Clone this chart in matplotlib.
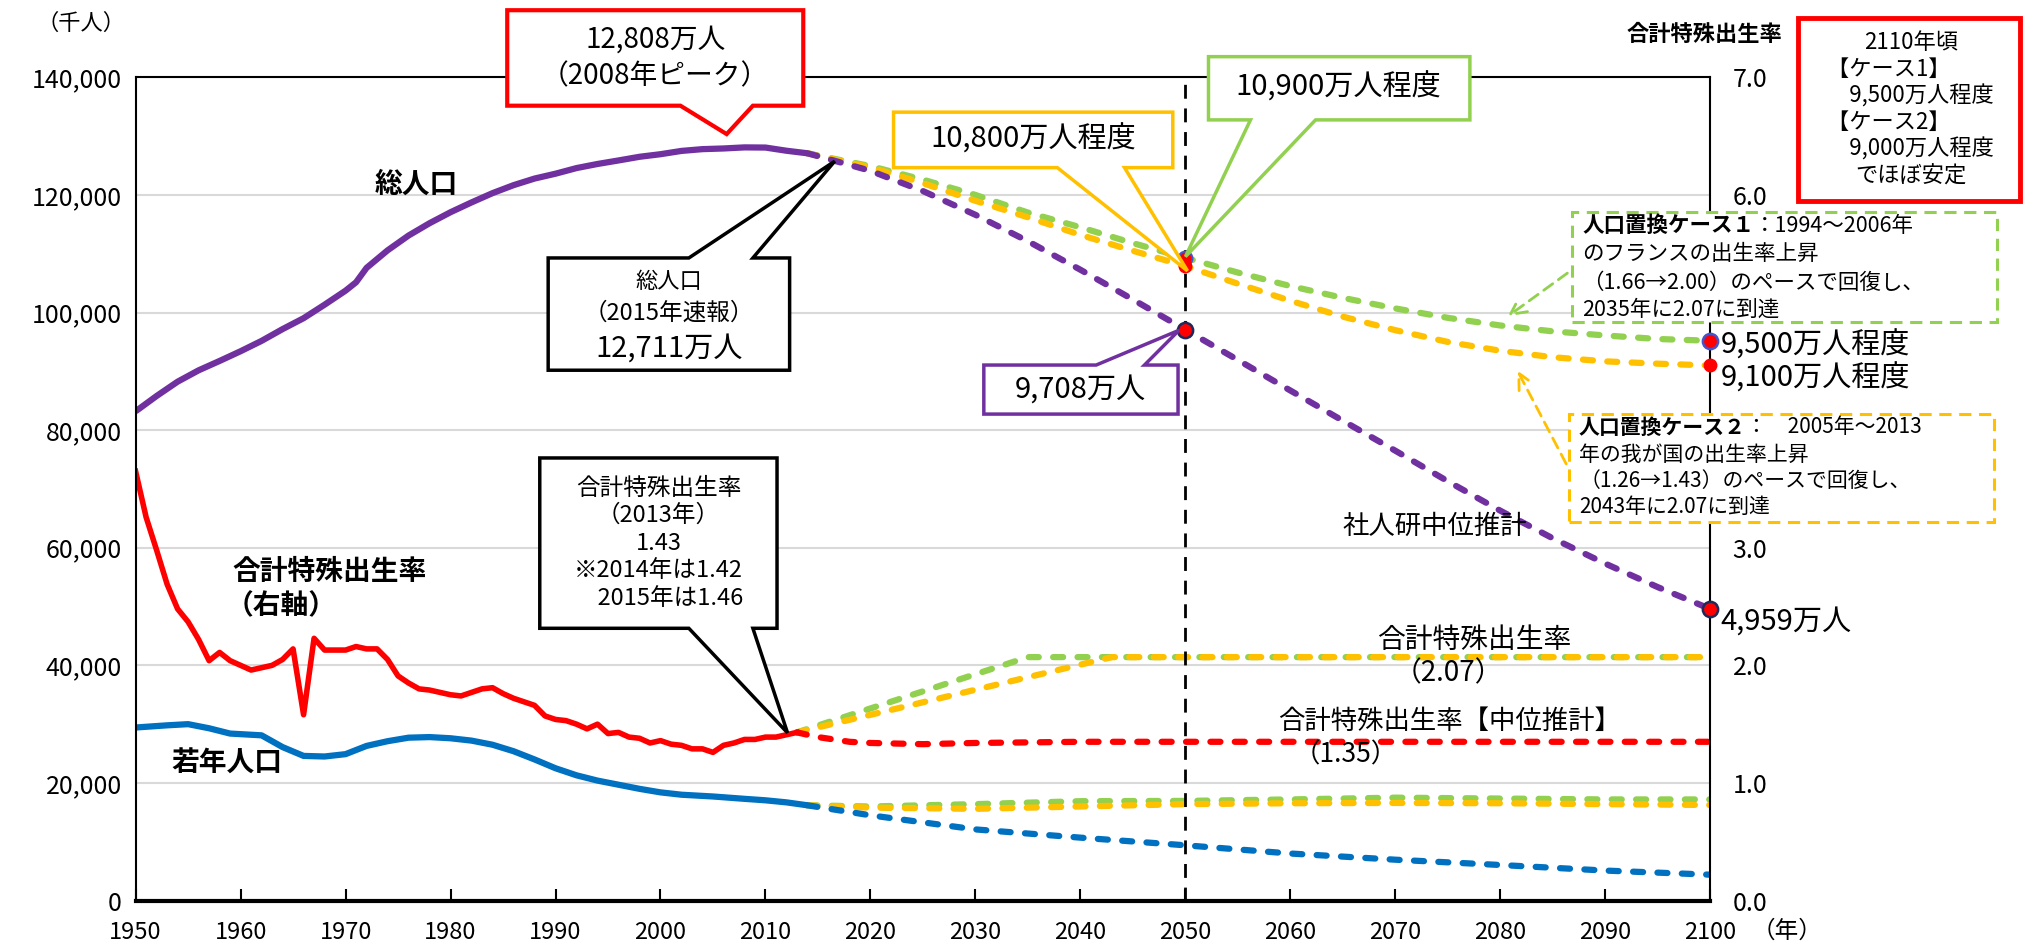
import matplotlib.pyplot as plt
from matplotlib.patches import Polygon, Rectangle, FancyArrowPatch
from matplotlib.ticker import FuncFormatter

plt.rcParams['font.family'] = ['Noto Sans CJK JP', 'DejaVu Sans']

# ---- data ----
# 総人口 実績 (千人)
pop_years = [1950, 1952, 1954, 1956, 1958, 1960, 1962, 1964, 1966, 1968, 1970, 1971,
             1972, 1974, 1976, 1978, 1980, 1982, 1984, 1986, 1988, 1990, 1992, 1994,
             1996, 1998, 2000, 2002, 2004, 2006, 2008, 2010, 2012, 2014]
pop_actual = [83200, 85808, 88239, 90172, 91767, 93419, 95181, 97182, 99036, 101331,
              103720, 105145, 107595, 110573, 113094, 115190, 117060, 118728, 120305,
              121660, 122783, 123611, 124567, 125265, 125864, 126486, 126926, 127486,
              127787, 127901, 128084, 128057, 127515, 127083]

# 推計 (千人)
proj_years = [2014, 2015, 2020, 2025, 2030, 2035, 2040, 2045, 2050, 2055, 2060, 2065,
              2070, 2075, 2080, 2085, 2090, 2095, 2100]
pop_mid = [127083, 126597, 124100, 120659, 116618, 112124, 107276, 102210, 97076, 91933,
           86737, 81600, 76500, 71300, 66300, 61600, 57300, 53300, 49590]
pop_case1 = [127083, 126700, 124900, 122600, 120000, 117000, 114500, 111800, 109300,
             106800, 104500, 102500, 100700, 99100, 97800, 96800, 96100, 95500, 95200]
pop_case2 = [127083, 126650, 124700, 122000, 119000, 116200, 113200, 110500, 107900,
             104900, 102000, 99300, 97000, 95000, 93500, 92400, 91700, 91300, 91000]

# 若年人口 (千人)
young_years = [1950, 1953, 1955, 1957, 1959, 1961, 1962, 1964, 1966, 1968, 1970, 1972,
               1974, 1976, 1978, 1980, 1982, 1984, 1986, 1988, 1990, 1992, 1994, 1996,
               1998, 2000, 2002, 2005, 2008, 2010, 2012, 2014]
young_actual = [29430, 29800, 30000, 29300, 28400, 28200, 28100, 26100, 24600, 24500,
                24900, 26300, 27100, 27700, 27800, 27600, 27200, 26500, 25400, 24000,
                22500, 21300, 20400, 19700, 19000, 18400, 18000, 17700, 17300, 17050,
                16700, 16200]
young_proj_years = [2014, 2020, 2030, 2040, 2050, 2060, 2070, 2080, 2090, 2100]
young_mid = [16200, 14500, 12100, 10700, 9400, 8000, 6950, 6050, 5100, 4400]
young_case1 = [16200, 16000, 16400, 16900, 16950, 17200, 17500, 17350, 17200, 17200]
young_case2 = [16200, 15800, 15600, 16000, 16400, 16550, 16600, 16550, 16400, 16250]

# 合計特殊出生率
tfr_years = list(range(1950, 2014))
tfr_actual = [3.65, 3.26, 2.98, 2.69, 2.48, 2.37, 2.22, 2.04, 2.11, 2.04,
              2.00, 1.96, 1.98, 2.00, 2.05, 2.14, 1.58, 2.23, 2.13, 2.13,
              2.13, 2.16, 2.14, 2.14, 2.05, 1.91, 1.85, 1.80, 1.79, 1.77,
              1.75, 1.74, 1.77, 1.80, 1.81, 1.76, 1.72, 1.69, 1.66, 1.57,
              1.54, 1.53, 1.50, 1.46, 1.50, 1.42, 1.43, 1.39, 1.38, 1.34,
              1.36, 1.33, 1.32, 1.29, 1.29, 1.26, 1.32, 1.34, 1.37, 1.37,
              1.39, 1.39, 1.41, 1.43]
tfr_mid_years = [2013, 2015, 2018, 2020, 2025, 2030, 2040, 2100]
tfr_mid = [1.43, 1.39, 1.35, 1.34, 1.33, 1.34, 1.35, 1.35]
tfr_case1_years = [2013, 2035, 2100]
tfr_case1 = [1.43, 2.07, 2.07]
tfr_case2_years = [2013, 2043, 2100]
tfr_case2 = [1.43, 2.07, 2.07]

PURPLE = '#7030A0'
RED = '#FF0000'
BLUE = '#0070C0'
GREEN = '#92D050'
YELLOW = '#FFC000'

fig = plt.figure(figsize=(20.24, 9.43), dpi=100)
ax = fig.add_axes([0.067, 0.045, 0.778, 0.873])
ax2 = ax.twinx()
ax.set_zorder(2)
ax.patch.set_visible(False)

dash = dict(linestyle=(0, (1.6, 2.3)), dash_capstyle='round', lw=4.5)

# 出生率 (右軸)
ax2.plot(tfr_case1_years, tfr_case1, color=GREEN, **dash)
ax2.plot(tfr_case2_years, tfr_case2, color=YELLOW, **dash)
ax2.plot(tfr_mid_years, tfr_mid, color=RED, **dash)
ax2.plot(tfr_years, tfr_actual, color=RED, lw=4)

# 人口 (左軸)
ax.plot(young_proj_years, young_case1, color=GREEN, **dash)
ax.plot(young_proj_years, young_case2, color=YELLOW, **dash)
ax.plot(young_proj_years, young_mid, color=BLUE, **dash)
ax.plot(young_years, young_actual, color=BLUE, lw=4.5, solid_capstyle='butt')

ax.plot(proj_years, pop_case1, color=GREEN, **dash)
ax.plot(proj_years, pop_case2, color=YELLOW, **dash)
ax.plot(proj_years, pop_mid, color=PURPLE, **dash)
ax.plot(pop_years, pop_actual, color=PURPLE, lw=4.5, solid_capstyle='butt')

ax.axvline(2050, color='black', lw=2, linestyle=(0, (5, 3.5)), zorder=3)

# 2050年・2100年の点
i50 = proj_years.index(2050)
ax.plot([2050], [pop_case1[i50]], 'o', ms=10, mfc=RED, mec='#4455CC', mew=1.5, zorder=5)
ax.plot([2050], [pop_case2[i50]], 'o', ms=9, mfc=RED, mec=RED, zorder=5)
ax.plot([2050], [pop_mid[i50]], 'o', ms=11, mfc=RED, mec='#1F2A5A', mew=1.8, zorder=5)
ax.plot([2100], [pop_case1[-1]], 'o', ms=11, mfc=RED, mec='#4455CC', mew=1.8, zorder=5, clip_on=False)
ax.plot([2100], [pop_case2[-1]], 'o', ms=9, mfc=RED, mec=RED, zorder=5, clip_on=False)
ax.plot([2100], [pop_mid[-1]], 'o', ms=11, mfc=RED, mec='#1F2A5A', mew=1.8, zorder=5, clip_on=False)

# axes
ax.set_xlim(1950, 2100)
ax.set_ylim(0, 140000)
ax2.set_ylim(0, 7)
ax.set_xticks(range(1950, 2101, 10))
ax.set_yticks(range(0, 140001, 20000))
ax2.set_yticks(range(0, 8))
ax.yaxis.set_major_formatter(FuncFormatter(lambda v, p: f'{v:,.0f}'))
# 4.0 と 5.0 は右側の枠に隠れている
ax2.yaxis.set_major_formatter(FuncFormatter(lambda v, p: '' if 4 <= v <= 5 else f'{v:.1f}'))
ax.tick_params(axis='y', length=0, labelsize=18, pad=10)
ax.tick_params(axis='x', direction='in', length=9, width=1.5, labelsize=17, pad=15)
ax2.tick_params(axis='y', length=0, labelsize=18, pad=16)
ax2.grid(axis='y', color='#D9D9D9', lw=1.5)
ax2.set_axisbelow(True)
for s in ax.spines.values():
    s.set_linewidth(1.5)
ax.spines['bottom'].set_linewidth(3)
for s in ax2.spines.values():
    s.set_visible(False)

fig.text(0.040, 0.975, '（千人）', fontsize=16, ha='center', va='center')
fig.text(0.842, 0.963, '合計特殊出生率', fontsize=16, weight='bold', ha='center', va='center')
fig.text(0.883, 0.012, '（年）', fontsize=17, ha='center', va='center')

# series labels
ax.text(1976.7, 121790, '総人口', fontsize=20, weight='bold', ha='center', va='center')
ax.text(1959.2, 55960, '合計特殊出生率', fontsize=20, weight='bold', ha='left', va='center')
ax.text(1958.6, 50030, '（右軸）', fontsize=20, weight='bold', ha='left', va='center')
ax.text(1953.4, 23260, '若年人口', fontsize=20, weight='bold', ha='left', va='center')
ax.text(2065.0, 63640, '社人研中位推計', fontsize=19, ha='left', va='center')
ax2.text(2068.3, 2.216, '合計特殊出生率', fontsize=20, ha='left', va='center')
ax2.text(2069.8, 1.936, '（2.07）', fontsize=20, ha='left', va='center')
ax2.text(2058.8, 1.525, '合計特殊出生率【中位推計】', fontsize=19, ha='left', va='center')
ax2.text(2060.3, 1.24, '（1.35）', fontsize=19, ha='left', va='center')

ax.text(2101.0, 94360, '9,500万人程度', fontsize=21, ha='left', va='center')
ax.text(2101.0, 88870, '9,100万人程度', fontsize=21, ha='left', va='center')
ax.text(2101.0, 47490, '4,959万人', fontsize=21, ha='left', va='center')


def callout(x0, x1, y0, y1, base, tip, side, color, lw=2.5):
    xa, xb = base
    if side == 'bottom':
        pts = [(x0, y1), (x1, y1), (x1, y0), (xb, y0), tip, (xa, y0), (x0, y0)]
    else:
        pts = [(x0, y0), (x1, y0), (x1, y1), (xb, y1), tip, (xa, y1), (x0, y1)]
    ax.add_patch(Polygon(pts, closed=True, facecolor='white', edgecolor=color,
                         linewidth=lw, clip_on=False, zorder=8, joinstyle='miter'))


callout(1985.4, 2013.6, 135175, 151414, (2001.9, 2008.8), (2006.3, 130347), 'bottom', RED, 3)
ax.text(1999.5, 143300, '12,808万人\n（2008年ピーク）', fontsize=20, ha='center', va='center',
        linespacing=1.3, zorder=9)

callout(1989.3, 2012.3, 90190, 109281, (2002.7, 2008.8), (2016.6, 125740), 'top', 'black')
ax.text(2000.8, 105330, '総人口', fontsize=16, ha='center', va='center', zorder=9)
ax.text(2000.8, 99845, '（2015年速報）', fontsize=17, ha='center', va='center', zorder=9)
ax.text(2000.8, 93920, '12,711万人', fontsize=21, ha='center', va='center', zorder=9)

callout(1988.5, 2011.1, 46302, 75268, (2002.7, 2008.8), (2012.1, 28527), 'bottom', 'black')
ax.text(1999.8, 60785, '合計特殊出生率\n（2013年）\n1.43\n※2014年は1.42\n　2015年は1.46',
        fontsize=17, ha='center', va='center', linespacing=1.25, zorder=9)

callout(2022.2, 2048.8, 124642, 134078, (2037.8, 2044.2), (2050.2, 107087), 'bottom', YELLOW)
ax.text(2035.5, 129470, '10,800万人程度', fontsize=21, ha='center', va='center', zorder=9)

callout(2052.2, 2077.1, 132760, 143513, (2056.2, 2062.4), (2050.0, 109500), 'bottom', GREEN)
ax.text(2064.6, 138250, '10,900万人程度', fontsize=21, ha='center', va='center', zorder=9)

callout(2030.8, 2049.3, 82730, 91070, (2041.5, 2046.1), (2049.4, 96990), 'top', PURPLE)
ax.text(2040.0, 86900, '9,708万人', fontsize=21, ha='center', va='center', zorder=9)

# 右上の枠
ax.add_patch(Rectangle((2108.4, 118937), 21.1, 31160, facecolor='white', edgecolor=RED,
                       linewidth=3.5, clip_on=False, zorder=8))
ax.text(2119.1, 134517, '2110年頃\n【ケース1】　　\n　9,500万人程度\n【ケース2】　　\n　9,000万人程度\nでほぼ安定',
        fontsize=16, ha='center', va='center', linespacing=1.2, zorder=9)


def case_box(x0, x1, y0, y1, color, head, rest, lines, ys, fs):
    ax.add_patch(Rectangle((x0, y0), x1 - x0, y1 - y0, facecolor='white', edgecolor=color,
                           linewidth=2.2, linestyle=(0, (4, 2.5)), clip_on=False, zorder=8))
    tx = x0 + 1.0
    t = ax.text(tx, ys[0], head, fontsize=fs, weight='bold', ha='left', va='center', zorder=9)
    ax.annotate(rest, xy=(1, 0.5), xycoords=t, fontsize=fs, ha='left', va='center', zorder=9)
    for s, y in zip(lines, ys[1:]):
        ax.text(tx, y, s, fontsize=fs, ha='left', va='center', zorder=9)


case_box(2086.8, 2127.3, 98310, 117180, GREEN, '人口置換ケース１', '：1994～2006年',
         ['のフランスの出生率上昇', '（1.66→2.00）のペースで回復し、', '2035年に2.07に到達'],
         [114770, 109940, 105110, 100500], 15.5)
case_box(2086.5, 2127.0, 64296, 82730, YELLOW, '人口置換ケース２', '：　2005年～2013',
         ['年の我が国の出生率上昇', '（1.26→1.43）のペースで回復し、', '2043年に2.07に到達'],
         [80535, 75705, 71318, 66929], 15)

ax.add_patch(FancyArrowPatch((2086.6, 106980), (2080.5, 99080), arrowstyle='->',
                             mutation_scale=28, color=GREEN, lw=2, linestyle=(0, (4, 2.5)),
                             clip_on=False, zorder=7))
ax.add_patch(FancyArrowPatch((2086.4, 73840), (2081.5, 90560), arrowstyle='->',
                             mutation_scale=28, color=YELLOW, lw=2, linestyle=(0, (4, 2.5)),
                             clip_on=False, zorder=7))

fig.savefig('out.png', dpi=100)
